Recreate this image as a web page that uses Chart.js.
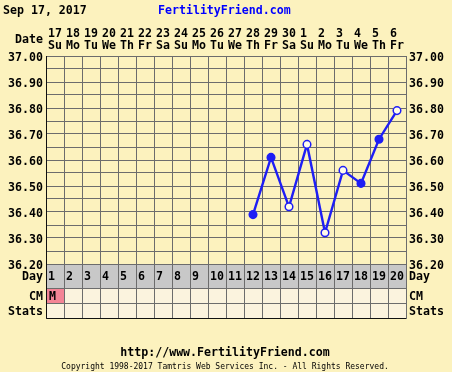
<!DOCTYPE html>
<html><head><meta charset="utf-8">
<script src="https://cdn.jsdelivr.net/npm/chart.js@4/dist/chart.umd.min.js"></script>
<style>html,body{margin:0;padding:0;background:#FCF2BE;}canvas{display:block;}</style>
</head><body>
<canvas id="c" width="452" height="372"></canvas>
<script>
const cycleDays = [1,2,3,4,5,6,7,8,9,10,11,12,13,14,15,16,17,18,19,20];
const dateNums = ['17','18','19','20','21','22','23','24','25','26','27','28','29','30','1','2','3','4','5','6'];
const weekdays = ['Su','Mo','Tu','We','Th','Fr','Sa','Su','Mo','Tu','We','Th','Fr','Sa','Su','Mo','Tu','We','Th','Fr'];
const temps = [null,null,null,null,null,null,null,null,null,null,null,36.39,36.61,36.42,36.66,36.32,36.56,36.51,36.68,36.79];
const openPoint = [false,false,false,false,false,false,false,false,false,false,false,false,false,true,true,true,true,false,false,true];
const cmMarks = ['M','','','','','','','','','','','','','','','','','','',''];
const chartDate = 'Sep 17, 2017';
const siteName = 'FertilityFriend.com';
const siteUrl = 'http://www.FertilityFriend.com';
const copyright = 'Copyright 1998-2017 Tamtris Web Services Inc. - All Rights Reserved.';

const BG = '#FCF2BE';
const GRID = '#6c6c6c';
const LINE = '#1E1EF5';
const FONT = '"DejaVu Sans Mono", monospace';
const BOLD = 'bold 11.6px ' + FONT;

const tickCb = function(value){
  const v = Math.round(value*100);
  return v % 10 === 0 ? (v/100).toFixed(2) : '';
};

const framePlugin = {
  id: 'frame',
  beforeDraw(chart){
    const ctx = chart.ctx;
    ctx.save();
    ctx.fillStyle = BG;
    ctx.fillRect(0,0,chart.width,chart.height);
    ctx.restore();
  },
  afterDraw(chart){
    const ctx = chart.ctx;
    const xs = chart.scales.x;
    const area = chart.chartArea;
    ctx.save();
    ctx.textBaseline = 'middle';
    ctx.font = BOLD;
    ctx.fillStyle = '#000';
    ctx.textAlign = 'left';
    ctx.fillText(chartDate, 3, 10.5);
    ctx.fillStyle = '#0000FF';
    ctx.fillText(siteName, 158, 10.5);
    ctx.fillStyle = '#000';
    ctx.textAlign = 'right';
    ctx.fillText('Date', area.left - 3, 39.5);
    ctx.textAlign = 'left';
    cycleDays.forEach((d,i)=>{
      const l = xs.getPixelForValue(d-0.5);
      ctx.fillText(dateNums[i], l + 2, 33.5);
      ctx.fillText(weekdays[i], l + 2, 46);
    });
    const rows = [
      {top: area.bottom, bot: area.bottom + 24, fill: '#C8C8C8', label: 'Day'},
      {top: area.bottom + 24, bot: area.bottom + 39, fill: '#FBF3DE', label: 'CM'},
      {top: area.bottom + 39, bot: area.bottom + 54, fill: '#FBF3DE', label: 'Stats'}
    ];
    rows.forEach((r, ri)=>{
      cycleDays.forEach((d,i)=>{
        const l = Math.round(xs.getPixelForValue(d-0.5));
        const rr = Math.round(xs.getPixelForValue(d+0.5));
        let fill = r.fill;
        if (ri === 1 && cmMarks[i] === 'M') fill = '#F48496';
        ctx.fillStyle = fill;
        ctx.fillRect(l, r.top, rr-l, r.bot-r.top);
        ctx.strokeStyle = GRID;
        ctx.lineWidth = 1;
        ctx.strokeRect(l+0.5, r.top+0.5, rr-l, r.bot-r.top);
        ctx.fillStyle = '#000';
        ctx.textAlign = 'left';
        const cy = (r.top + r.bot)/2 + 1;
        if (ri === 0) ctx.fillText(String(d), l + 2, cy);
        if (ri === 1 && cmMarks[i]) ctx.fillText(cmMarks[i], l + 3, cy);
      });
      ctx.fillStyle = '#000';
      const cy = (r.top + r.bot)/2 + 1;
      ctx.textAlign = 'right';
      ctx.fillText(r.label, area.left - 3, cy);
      ctx.textAlign = 'left';
      ctx.fillText(r.label, area.right + 3, cy);
    });
    ctx.strokeStyle = '#111';
    ctx.beginPath();
    ctx.moveTo(area.left+0.5, area.top);
    ctx.lineTo(area.left+0.5, area.bottom + 54.5);
    ctx.lineTo(area.right, area.bottom + 54.5);
    ctx.stroke();
    ctx.textAlign = 'center';
    ctx.font = BOLD;
    ctx.fillText(siteUrl, 225, 353);
    ctx.font = '8px ' + FONT;
    ctx.fillText(copyright, 225, 366.5);
    ctx.restore();
  }
};

const fitW = w => function(scale){ scale.width = w; };

new Chart(document.getElementById('c'), {
  type: 'line',
  data: {
    datasets: [{
      data: cycleDays.map((d,i)=>({x:d, y:temps[i]})),
      borderColor: LINE,
      borderWidth: 2.4,
      tension: 0,
      pointRadius: 3.8,
      pointBorderWidth: 1.5,
      pointBorderColor: LINE,
      pointBackgroundColor: openPoint.map(o => o ? '#FFFBEA' : LINE)
    }]
  },
  options: {
    responsive: false,
    animation: false,
    devicePixelRatio: 1,
    layout: {padding: {left: 0, right: 0, top: 56, bottom: 108}},
    plugins: {legend: {display: false}, tooltip: {enabled: false}},
    scales: {
      x: {
        type: 'linear', min: 0.5, max: 20.5,
        ticks: {display: false, stepSize: 1},
        grid: {color: GRID, drawTicks: false},
        border: {color: GRID},
        afterFit(s){ s.height = 0; }
      },
      y: {
        position: 'left', min: 36.2, max: 37.0,
        ticks: {stepSize: 0.05, autoSkip: false, callback: tickCb, padding: 3, labelOffset: 2, color: '#000', font: {family: FONT, size: 11.6, weight: 'bold'}},
        grid: {color: GRID, drawTicks: false},
        border: {color: '#222'},
        afterFit: fitW(46)
      },
      y2: {
        position: 'right', min: 36.2, max: 37.0,
        ticks: {stepSize: 0.05, autoSkip: false, callback: tickCb, padding: 3, labelOffset: 2, color: '#000', font: {family: FONT, size: 11.6, weight: 'bold'}},
        grid: {drawOnChartArea: false, drawTicks: false},
        border: {color: GRID},
        afterFit: fitW(46)
      }
    }
  },
  plugins: [framePlugin]
});
</script>
</body></html>
